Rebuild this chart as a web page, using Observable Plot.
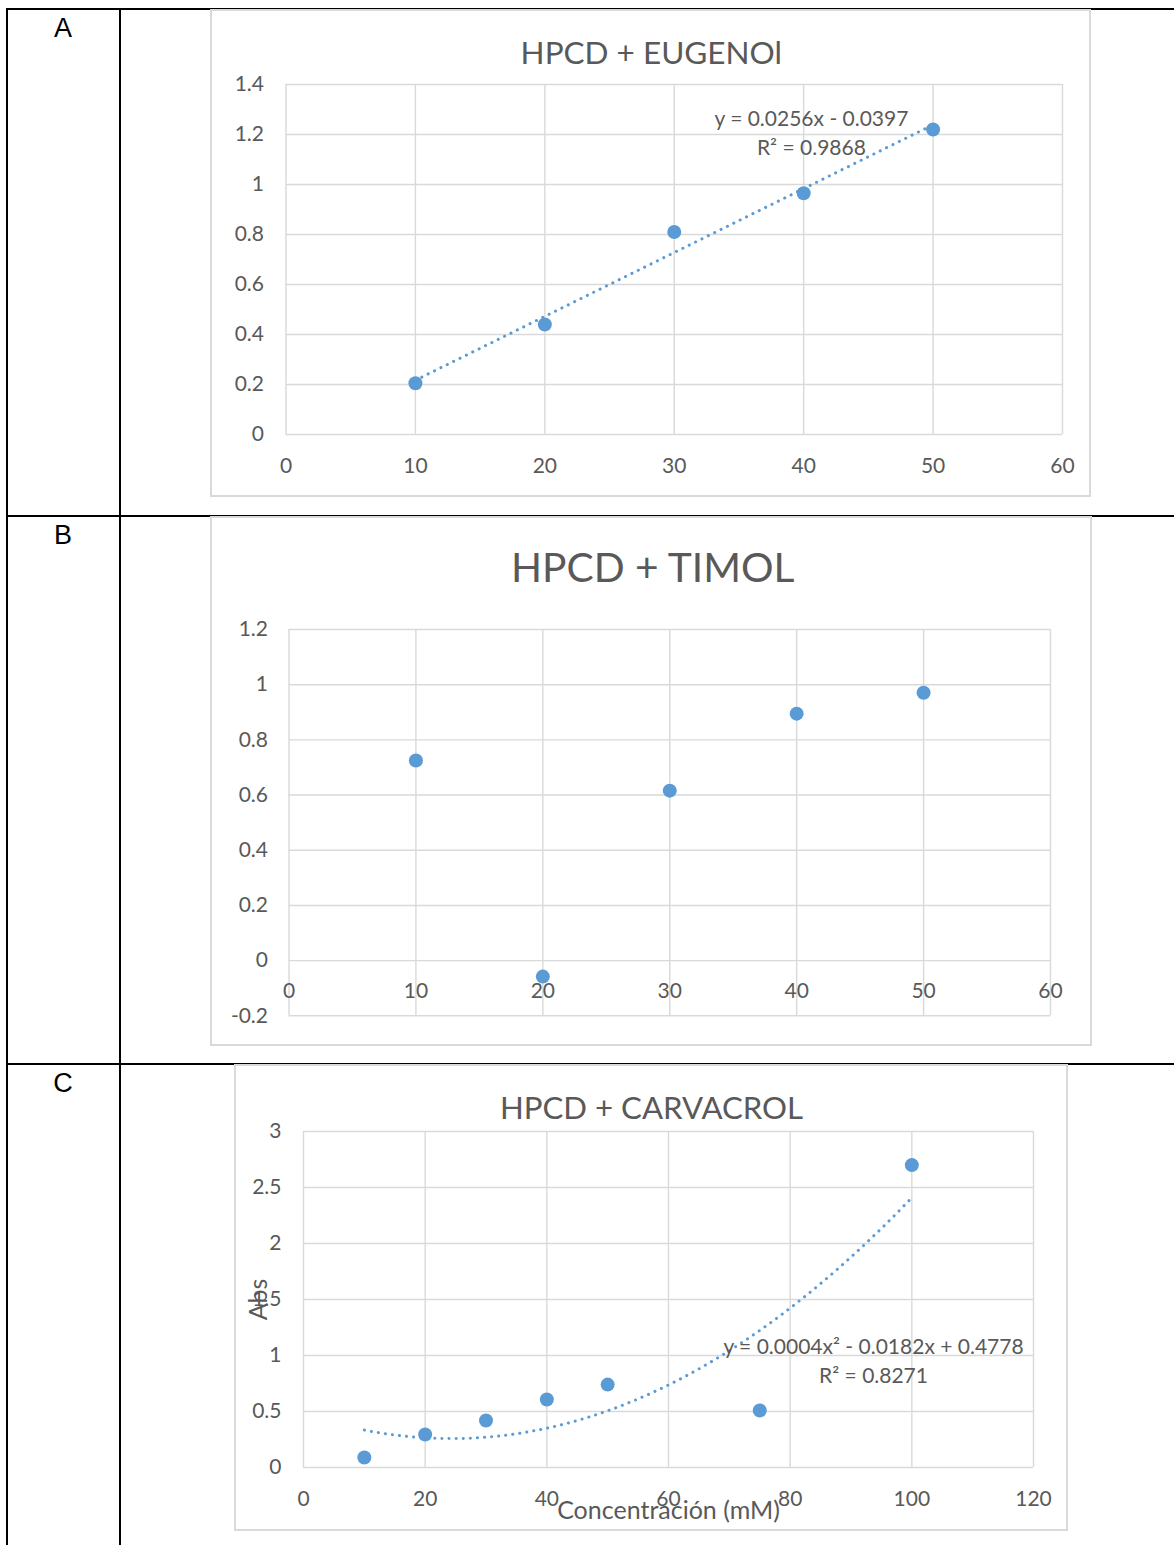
<!DOCTYPE html>
<html><head><meta charset="utf-8">
<script src="https://cdn.jsdelivr.net/npm/d3@7"></script>
<script src="https://cdn.jsdelivr.net/npm/@observablehq/plot@0.6"></script>
<style>
body{margin:0;background:#fff}
#page{position:relative;width:1174px;height:1545px;overflow:hidden;background:#fff}
.rule{position:absolute;background:#000}
.lab{position:absolute;font-family:"Liberation Sans",Arial,sans-serif;font-size:27px;color:#000;width:112px;text-align:center;left:7px;line-height:1}
.chart{position:absolute}
.chart svg{display:block;overflow:visible}
</style></head><body><div id="page">
<div class="rule" style="left:6px;top:8px;width:1168px;height:2px"></div>
<div class="rule" style="left:6px;top:515px;width:1168px;height:2px"></div>
<div class="rule" style="left:6px;top:1063px;width:1168px;height:2px"></div>
<div class="rule" style="left:6px;top:8px;width:2px;height:1537px"></div>
<div class="rule" style="left:119px;top:8px;width:2px;height:1537px"></div>
<div class="lab" style="top:15px">A</div>
<div class="lab" style="top:522px">B</div>
<div class="lab" style="top:1070px">C</div>
<div class="chart" id="cA" style="left:211px;top:10px"></div>
<div class="chart" id="cB" style="left:211px;top:517px"></div>
<div class="chart" id="cC" style="left:235px;top:1065px"></div>
</div>
<script>
// ---- Data ----
const titles = ["HPCD + EUGENOl", "HPCD + TIMOL", "HPCD + CARVACROL"];

const concA = [10, 20, 30, 40, 50];
const absA = [0.205, 0.44, 0.81, 0.965, 1.22];
const xTicksA = [0, 10, 20, 30, 40, 50, 60];
const yTicksA = [0, 0.2, 0.4, 0.6, 0.8, 1, 1.2, 1.4];
const eqA = ["y = 0.0256x - 0.0397", "R² = 0.9868"];

const concB = [10, 20, 30, 40, 50];
const absB = [0.725, -0.058, 0.616, 0.895, 0.971];
const xTicksB = [0, 10, 20, 30, 40, 50, 60];
const yTicksB = [-0.2, 0, 0.2, 0.4, 0.6, 0.8, 1, 1.2];

const concC = [10, 20, 30, 40, 50, 75, 100];
const absC = [0.089, 0.295, 0.42, 0.607, 0.74, 0.509, 2.70];
const xTicksC = [0, 20, 40, 60, 80, 100, 120];
const yTicksC = [0, 0.5, 1, 1.5, 2, 2.5, 3];
const eqC = ["y = 0.0004x² - 0.0182x + 0.4778", "R² = 0.8271"];
const axisTitlesC = ["Concentración (mM)", "Abs"];

// ---- Helpers ----
const BLUE = "#5B9BD5", GRID = "#d9d9d9", TXT = "#595959";
const FONT = "Lato, 'Open Sans', sans-serif";
const FS = 21;

function polyfit(xs, ys, deg) {
  const n = deg + 1;
  const A = Array.from({length: n}, () => Array(n + 1).fill(0));
  for (let i = 0; i < xs.length; i++) {
    for (let r = 0; r < n; r++) {
      for (let c = 0; c < n; c++) A[r][c] += Math.pow(xs[i], r + c);
      A[r][n] += ys[i] * Math.pow(xs[i], r);
    }
  }
  for (let p = 0; p < n; p++) {
    let m = p;
    for (let r = p + 1; r < n; r++) if (Math.abs(A[r][p]) > Math.abs(A[m][p])) m = r;
    [A[p], A[m]] = [A[m], A[p]];
    for (let r = 0; r < n; r++) {
      if (r === p) continue;
      const f = A[r][p] / A[p][p];
      for (let c = p; c <= n; c++) A[r][c] -= f * A[p][c];
    }
  }
  return A.map((row, i) => row[n] / row[i]);
}
function trend(xs, ys, deg) {
  const co = polyfit(xs, ys, deg);
  const lo = d3.min(xs), hi = d3.max(xs);
  const n = deg === 1 ? 1 : 90;
  return d3.range(n + 1).map(i => {
    const x = lo + (hi - lo) * i / n;
    return {x, y: co.reduce((s, c, k) => s + c * Math.pow(x, k), 0)};
  });
}
const pts = (xs, ys) => xs.map((x, i) => ({x, y: ys[i]}));

const gridStyle = {stroke: GRID, strokeOpacity: 1, strokeWidth: 1.4};
const dotted = {stroke: BLUE, strokeWidth: 3, strokeDasharray: "0.1 7", strokeLinecap: "round"};
const mid = {lineAnchor: "middle", textAnchor: "middle"};

function base(o) {
  return Plot.plot({
    width: o.width, height: o.height,
    marginLeft: o.ml, marginRight: o.mr, marginTop: o.mt, marginBottom: o.mb,
    style: {fontFamily: FONT, fontSize: FS + "px", color: TXT, background: "transparent", outline: "2px solid " + GRID, outlineOffset: "-1px"},
    x: {domain: o.xDomain, axis: null},
    y: {domain: o.yDomain, axis: null},
    marks: o.marks
  });
}

// ---- Chart A ----
document.getElementById("cA").append(base({
  width: 879, height: 486, ml: 74.5, mr: 28, mt: 74, mb: 62,
  xDomain: [0, 60], yDomain: [0, 1.4],
  marks: [
    Plot.gridX(xTicksA, gridStyle),
    Plot.gridY(yTicksA, gridStyle),
    Plot.axisY(yTicksA, {tickSize: 0, tickPadding: 22, fontSize: FS, label: null, tickFormat: d => String(d)}),
    Plot.axisX(xTicksA, {tickSize: 0, tickPadding: 24, fontSize: FS, label: null, tickFormat: d => String(d)}),
    Plot.line(trend(concA, absA, 1), {x: "x", y: "y", ...dotted}),
    Plot.dot(pts(concA, absA), {x: "x", y: "y", r: 7, fill: BLUE}),
    Plot.text([eqA[0]], {x: 40.6, y: 1.26, fontSize: FS, fill: TXT}),
    Plot.text([eqA[1]], {x: 40.6, y: 1.144, fontSize: FS, fill: TXT}),
    Plot.text([titles[0]], {frameAnchor: "top", ...mid, dx: -23, dy: -31, fontSize: 31.5, fill: TXT})
  ]
}));

// ---- Chart B ----
document.getElementById("cB").append(base({
  width: 880, height: 528, ml: 77.5, mr: 41, mt: 112, mb: 29.7,
  xDomain: [0, 60], yDomain: [-0.2, 1.2],
  marks: [
    Plot.gridX(xTicksB, gridStyle),
    Plot.gridY(yTicksB, gridStyle),
    Plot.axisY(yTicksB, {tickSize: 0, tickPadding: 21, fontSize: FS, label: null, tickFormat: d => String(d)}),
    Plot.dot(pts(concB, absB), {x: "x", y: "y", r: 7, fill: BLUE}),
    Plot.text(xTicksB, {x: d => d, y: 0, dy: 31, fontSize: FS, fill: TXT, text: d => String(d)}),
    Plot.text([titles[1]], {frameAnchor: "top", ...mid, dx: -17, dy: -61, fontSize: 40.7, fill: TXT})
  ]
}));

// ---- Chart C ----
document.getElementById("cC").append(base({
  width: 832, height: 465, ml: 68, mr: 34, mt: 66, mb: 63,
  xDomain: [0, 120], yDomain: [0, 3],
  marks: [
    Plot.gridX(xTicksC, gridStyle),
    Plot.gridY(yTicksC, gridStyle),
    Plot.axisY(yTicksC, {tickSize: 0, tickPadding: 22, fontSize: FS, label: null, tickFormat: d => String(d)}),
    Plot.axisX(xTicksC, {tickSize: 0, tickPadding: 24, fontSize: FS, label: null, tickFormat: d => String(d)}),
    Plot.line(trend(concC, absC, 2), {x: "x", y: "y", ...dotted}),
    Plot.text([eqC[0]], {x: 93.7, y: 1.071, fontSize: FS, fill: TXT}),
    Plot.text([eqC[1]], {x: 93.7, y: 0.8125, fontSize: FS, fill: TXT}),
    Plot.dot(pts(concC, absC), {x: "x", y: "y", r: 7, fill: BLUE}),
    Plot.text([axisTitlesC[0]], {frameAnchor: "bottom", ...mid, dy: 43, fontSize: 25, fill: TXT}),
    Plot.text([axisTitlesC[1]], {frameAnchor: "left", ...mid, dx: -45, rotate: -90, fontSize: 25, fill: TXT}),
    Plot.text([titles[2]], {frameAnchor: "top", ...mid, dx: -17, dy: -22, fontSize: 31.2, fill: TXT})
  ]
}));
</script>
</body></html>
